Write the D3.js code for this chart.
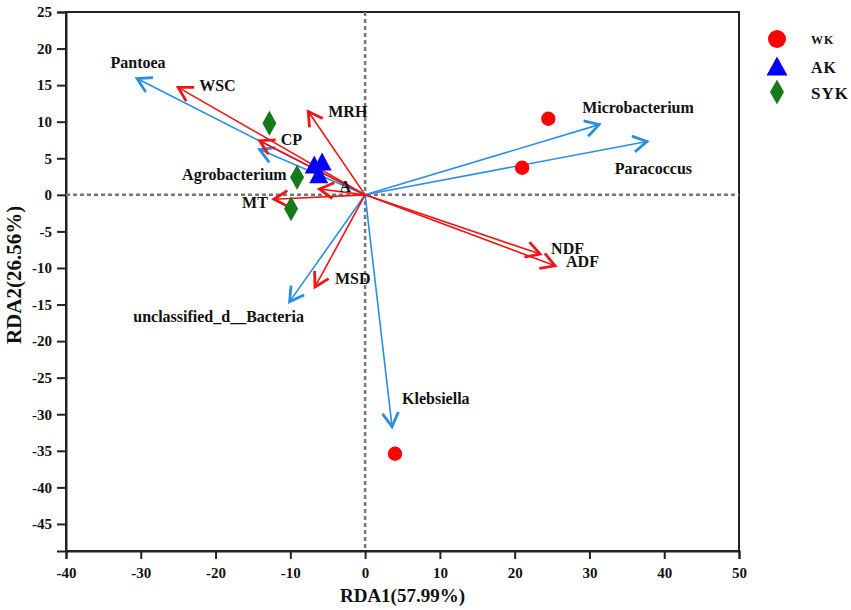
<!DOCTYPE html>
<html>
<head>
<meta charset="utf-8">
<script src="https://cdn.jsdelivr.net/npm/d3@7"></script>
<style>
  body { margin:0; background:#fff; }
  text { font-family: "Liberation Serif", "Times New Roman", serif; font-weight: bold; fill:#111; }
</style>
</head>
<body>
<div class="dgraph"></div>
<script>
// species arrows (blue)
var speciesNames = ["Pantoea","Agrobacterium","unclassified_d__Bacteria","Klebsiella","Microbacterium","Paracoccus"];
var speciesX = [-30.5, -14.1, -10.1, 3.6, 31.3, 37.7];
var speciesY = [15.9, 6.2, -14.6, -31.7, 9.6, 7.3];

// environmental factor arrows (red)
var envNames = ["WSC","MRH","CP","A","MT","MSD","NDF","ADF"];
var envX = [-25.0, -7.6, -14.1, -6.1, -12.2, -6.7, 23.4, 25.4];
var envY = [14.7, 11.4, 7.4, 0.8, -0.6, -12.6, -8.1, -9.7];

// samples
var wkX = [24.5, 21.0, 4.0];
var wkY = [10.4, 3.7, -35.4];
var akX = [-6.8, -5.75, -6.2];
var akY = [4.15, 4.55, 2.8];
var sykX = [-12.8, -9.1, -9.9];
var sykY = [9.8, 2.4, -1.9];

var xTicks = [-40,-30,-20,-10,0,10,20,30,40,50];
var yTicks = [25,20,15,10,5,0,-5,-10,-15,-20,-25,-30,-35,-40,-45];

var legendNames = ["WK","AK","SYK"];

// where each arrow label sits relative to the arrow tip (px)
var labelPos = {
  "Pantoea": [1,-16,"middle"], "Agrobacterium": [27,25,"end"],
  "unclassified_d__Bacteria": [-71,15,"middle"], "Klebsiella": [10,-28,"start"],
  "Microbacterium": [-17,-17,"start"], "Paracoccus": [45,27,"end"],
  "WSC": [21,-2,"start"], "MRH": [20,0,"start"], "CP": [21,-1,"start"],
  "A": [20,-3,"start"], "MT": [-6,3,"end"], "MSD": [20,-9,"start"],
  "NDF": [11,-6,"start"], "ADF": [11,-4,"start"]
};

var width = 851, height = 610;
var pLeft = 66, pRight = 739, pTop = 12, pBottom = 551;

var svg = d3.select("body .dgraph").append("svg")
  .attr("width", width).attr("height", height);

var x = d3.scaleLinear().domain([-40,50]).range([pLeft,pRight]);
var y = d3.scaleLinear().domain([25,-48.7]).range([pTop,pBottom]);

// frame
svg.append("rect").attr("x",pLeft).attr("y",pTop)
  .attr("width",pRight-pLeft).attr("height",pBottom-pTop)
  .attr("fill","none").attr("stroke","#222").attr("stroke-width",2);

// axes
var xAxis = d3.axisBottom(x).tickValues(xTicks).tickSize(8).tickPadding(5).tickFormat(function(d){ return String(d); });
var yAxis = d3.axisLeft(y).tickValues(yTicks).tickSize(9).tickPadding(5).tickFormat(function(d){ return String(d); });

var gx = svg.append("g").attr("transform","translate(0,"+pBottom+")").call(xAxis);
var gy = svg.append("g").attr("transform","translate("+pLeft+",0)").call(yAxis);
[gx,gy].forEach(function(g){
  g.select(".domain").attr("stroke","#222").attr("stroke-width",2);
  g.selectAll(".tick line").attr("stroke","#222").attr("stroke-width",2);
  g.selectAll(".tick text").style("font-family","Liberation Serif").style("font-weight","bold")
    .style("font-size","15px").attr("fill","#222");
});
gx.selectAll(".tick text").attr("dy","0.9em");

// axis titles
svg.append("text").attr("x",(pLeft+pRight)/2).attr("y",602)
  .attr("text-anchor","middle").style("font-size","19px").text("RDA1(57.99%)");
svg.append("text").attr("transform","translate(21,275) rotate(-90)")
  .attr("text-anchor","middle").style("font-size","21px").text("RDA2(26.56%)");

// dashed zero lines
svg.append("line").attr("x1",pLeft).attr("x2",pRight).attr("y1",y(0)).attr("y2",y(0))
  .attr("stroke","#777").attr("stroke-width",2.5).attr("stroke-dasharray","4,3");
svg.append("line").attr("x1",x(0)).attr("x2",x(0)).attr("y1",pTop).attr("y2",pBottom)
  .attr("stroke","#777").attr("stroke-width",2.5).attr("stroke-dasharray","4,3");

function drawArrows(names, xs, ys, color){
  var g = svg.append("g");
  names.forEach(function(n,i){
    var x0 = x(0), y0 = y(0), x1 = x(xs[i]), y1 = y(ys[i]);
    var ang = Math.atan2(y1-y0, x1-x0);
    var hl = 16, ha = Math.PI/6;
    g.append("line").attr("x1",x0).attr("y1",y0).attr("x2",x1).attr("y2",y1)
      .attr("stroke",color).attr("stroke-width",1.6);
    var p = d3.path();
    p.moveTo(x1 - hl*Math.cos(ang-ha), y1 - hl*Math.sin(ang-ha));
    p.lineTo(x1, y1);
    p.lineTo(x1 - hl*Math.cos(ang+ha), y1 - hl*Math.sin(ang+ha));
    g.append("path").attr("d",p.toString()).attr("fill","none")
      .attr("stroke",color).attr("stroke-width",2.8).attr("stroke-linejoin","miter");
    var lp = labelPos[n];
    g.append("text").attr("x",x1+lp[0]).attr("y",y1+lp[1]).attr("dy","0.35em")
      .attr("text-anchor",lp[2]).style("font-size","16px").text(n);
  });
}
drawArrows(speciesNames, speciesX, speciesY, "#2a8fe3");
drawArrows(envNames, envX, envY, "#f01414");

// point shapes
function tri(w,h){ return "M0,"+(-h/2)+"L"+(w/2)+","+(h/2)+"L"+(-w/2)+","+(h/2)+"Z"; }
function diamond(w,h){ return "M0,"+(-h/2)+"L"+(w/2)+",0L0,"+(h/2)+"L"+(-w/2)+",0Z"; }

svg.append("g").selectAll("circle").data(wkX).enter().append("circle")
  .attr("cx",function(d){ return x(d); })
  .attr("cy",function(d,i){ return y(wkY[i]); })
  .attr("r",7.2).attr("fill","#ff0000");

svg.append("g").selectAll("path").data(akX).enter().append("path")
  .attr("d",tri(19,18))
  .attr("transform",function(d,i){ return "translate("+x(d)+","+y(akY[i])+")"; })
  .attr("fill","#0000ff");

svg.append("g").selectAll("path").data(sykX).enter().append("path")
  .attr("d",diamond(14,25))
  .attr("transform",function(d,i){ return "translate("+x(d)+","+y(sykY[i])+")"; })
  .attr("fill","#157a1a");

// legend
var lg = svg.append("g").attr("transform","translate(777,39)");
lg.append("circle").attr("cx",0).attr("cy",0).attr("r",9).attr("fill","#ff0000");
lg.append("path").attr("d",tri(21,19)).attr("transform","translate(0,27)").attr("fill","#0000ff");
lg.append("path").attr("d",diamond(14,25)).attr("transform","translate(0,53)").attr("fill","#157a1a");
var lsize = ["12px","16px","17px"];
legendNames.forEach(function(n,i){
  lg.append("text").attr("x",34).attr("y",[1,28,54][i]).attr("dy","0.35em")
    .style("font-size",lsize[i]).style("letter-spacing","1px").text(n);
});
</script>
</body>
</html>
